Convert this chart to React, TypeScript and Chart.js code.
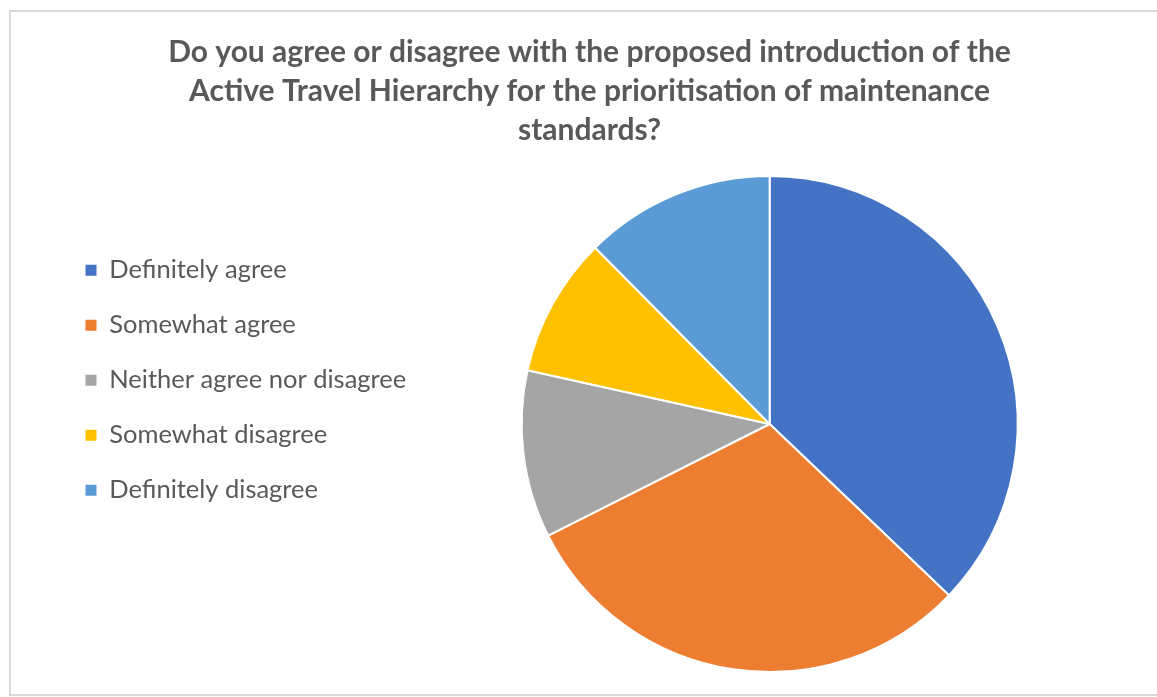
import React, { useEffect, useRef } from "react";
import { Chart, registerables } from "chart.js";

Chart.register(...registerables);

const titleLines = [
  "Do you agree or disagree with the proposed introduction of the",
  "Active Travel Hierarchy for the prioritisation of maintenance",
  "standards?",
];
const categories = [
  "Definitely agree",
  "Somewhat agree",
  "Neither agree nor disagree",
  "Somewhat disagree",
  "Definitely disagree",
];
const shares = [37.1, 30.4, 10.9, 9.1, 12.4];
const colors = ["#4472C4", "#ED7D31", "#A5A5A5", "#FFC000", "#5B9BD5"];

const frameBorder = {
  id: "frameBorder",
  beforeDraw(chart: any) {
    const ctx = chart.ctx;
    ctx.save();
    ctx.fillStyle = "#ffffff";
    ctx.fillRect(0, 0, chart.width, chart.height);
    ctx.strokeStyle = "#d9d9d9";
    ctx.lineWidth = 2;
    ctx.strokeRect(10, 11, 1200, 684);
    ctx.restore();
  },
};

export default function App() {
  const ref = useRef<HTMLCanvasElement | null>(null);
  useEffect(() => {
    if (!ref.current) return;
    const chart = new Chart(ref.current, {
      type: "pie",
      data: {
        labels: categories,
        datasets: [
          {
            data: shares,
            backgroundColor: colors,
            borderColor: "#ffffff",
            borderWidth: 2,
          },
        ],
      },
      plugins: [frameBorder],
      options: {
        animation: false,
        responsive: true,
        maintainAspectRatio: false,
        layout: { padding: { left: 56, right: 34, top: 10, bottom: 24 } },
        plugins: {
          tooltip: { enabled: false },
          title: {
            display: true,
            text: titleLines,
            color: "#595959",
            font: { family: "Lato", size: 30, weight: "bold", lineHeight: 1.3 },
            padding: { top: 23, bottom: 25 },
          },
          legend: {
            display: true,
            position: "left",
            align: "start",
            title: {
              display: true,
              text: " ",
              font: { size: 10, lineHeight: 1 },
              padding: { top: 208, bottom: 0 },
            },
            labels: {
              color: "#595959",
              font: { family: "Lato", size: 25.5 },
              boxWidth: 11,
              boxHeight: 11,
              padding: 29.5,
              generateLabels: (c: any) => {
                const base = (Chart as any).overrides.doughnut.plugins.legend.labels.generateLabels(c);
                return base.map((it: any) => ({ ...it, lineWidth: 0 }));
              },
            },
          },
        },
      },
    });
    return () => chart.destroy();
  }, []);
  return (
    <div style={{ position: "fixed", left: 0, top: 0, width: 1157, height: 697, background: "#fff" }}>
      <canvas ref={ref} />
    </div>
  );
}
